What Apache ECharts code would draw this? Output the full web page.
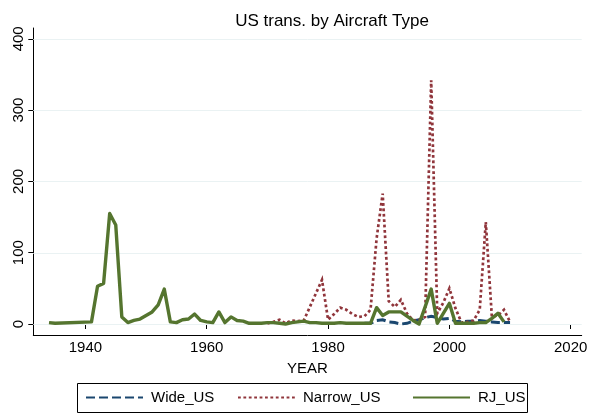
<!DOCTYPE html>
<html>
<head>
<meta charset="utf-8">
<script src="https://cdn.jsdelivr.net/npm/echarts@6/dist/echarts.min.js"></script>
<style>
  html, body { margin: 0; padding: 0; background: #fff; }
  #chart { width: 594px; height: 415px; }
</style>
</head>
<body>
<div id="chart"></div>
<script>
// Yearly transaction counts by aircraft type (US)
const wideYears = [1986, 1987, 1988, 1989, 1990, 1991, 1992, 1993, 1994, 1995, 1996, 1997, 1998,
  1999, 2000, 2001, 2002, 2003, 2004, 2005, 2006, 2007, 2008, 2009, 2010];
const wideValues = [1, 1, 5, 6, 3, 2, 0, 1, 4, 6, 9, 11, 9,
  7, 8, 4, 3, 4, 4, 5, 4, 3, 2, 2, 2];

const narrowYears = [1970, 1971, 1972, 1973, 1974, 1975, 1976, 1977, 1978, 1979, 1980, 1981, 1982,
  1983, 1984, 1985, 1986, 1987, 1988, 1989, 1990, 1991, 1992, 1993, 1994, 1995, 1996, 1997, 1998,
  1999, 2000, 2001, 2002, 2003, 2004, 2005, 2006, 2007, 2008, 2009, 2010];
const narrowValues = [1, 3, 6, 1, 5, 4, 5, 24, 43, 62, 6, 14, 23,
  20, 14, 10, 11, 20, 120, 183, 32, 24, 34, 15, 5, 6, 10, 342, 15,
  30, 50, 22, 2, 3, 5, 20, 143, 10, 12, 20, 3];

const rjYears = [1934, 1935, 1941, 1942, 1943, 1944, 1945, 1946, 1947, 1948, 1949, 1950, 1951,
  1952, 1953, 1954, 1955, 1956, 1957, 1958, 1959, 1960, 1961, 1962, 1963, 1964, 1965, 1966, 1967,
  1968, 1969, 1970, 1971, 1972, 1973, 1974, 1975, 1976, 1977, 1978, 1979, 1980, 1981, 1982, 1983,
  1984, 1985, 1986, 1987, 1988, 1989, 1990, 1991, 1992, 1993, 1994, 1995, 1996, 1997, 1998, 1999,
  2000, 2001, 2002, 2003, 2004, 2005, 2006, 2007, 2008, 2009];
const rjValues = [2, 1, 3, 53, 57, 155, 139, 10, 2, 5, 7, 12, 17,
  27, 49, 3, 2, 6, 7, 14, 5, 3, 2, 17, 2, 10, 5, 4, 1,
  1, 1, 2, 2, 1, 0, 2, 3, 4, 2, 2, 1, 1, 1, 2, 1,
  1, 1, 1, 1, 23, 12, 17, 17, 17, 11, 5, 0, 24, 49, 1, 15,
  29, 1, 1, 1, 1, 2, 2, 8, 15, 3];

const xTicks = [1940, 1960, 1980, 2000, 2020];
const yTicks = [0, 100, 200, 300, 400];

const seriesNames = ['Wide_US', 'Narrow_US', 'RJ_US'];
const seriesColors = ['#1a476f', '#90353b', '#55752f'];

function pairs(xs, ys) { return xs.map((x, i) => [x, ys[i]]); }

const FONT = 'Liberation Sans, Arial, Helvetica, sans-serif';
const chart = echarts.init(document.getElementById('chart'), null, { renderer: 'canvas' });

const legendBase = {
  orient: 'horizontal', top: 390, padding: 0, itemWidth: 57, itemHeight: 14,
  textStyle: { fontFamily: FONT, fontSize: 15, color: '#000', padding: [0, 0, 0, 3] },
  itemStyle: { opacity: 0 }
};

chart.setOption({
  backgroundColor: '#fff',
  animation: false,
  color: seriesColors,
  title: {
    text: 'US trans. by Aircraft Type',
    left: 327, top: 8, textAlign: 'center',
    textStyle: { fontFamily: FONT, fontSize: 17, fontWeight: 'normal', color: '#000' }
  },
  legend: [
    Object.assign({ left: 85, data: [seriesNames[0]] }, legendBase),
    Object.assign({ left: 237, data: [seriesNames[1]] }, legendBase),
    Object.assign({ left: 412, data: [seriesNames[2]] }, legendBase)
  ],
  grid: [
    // plotting area with its axis lines
    { left: 33.3, right: 12.3, top: 28, bottom: 80 },
    // tick/label frame spanning 1940-2020 and 0-400
    { left: 85.4, right: 23.3, top: 38.8, bottom: 91 }
  ],
  xAxis: [
    {
      gridIndex: 0, type: 'value', min: 1931.41, max: 2021.81,
      axisLine: { show: true, onZero: false, lineStyle: { color: '#000', width: 1 } },
      axisTick: { show: false }, axisLabel: { show: false }, splitLine: { show: false },
      name: 'YEAR', nameLocation: 'middle', nameGap: 26,
      nameTextStyle: { fontFamily: FONT, fontSize: 15, color: '#000' }
    },
    {
      gridIndex: 1, type: 'value', min: xTicks[0], max: xTicks[xTicks.length - 1], interval: 20,
      position: 'bottom', offset: 11,
      axisLine: { show: false },
      axisTick: { show: true, length: 5, lineStyle: { color: '#000' } },
      axisLabel: {
        show: true, margin: 5, fontFamily: FONT, fontSize: 15, color: '#000',
        formatter: v => String(v)
      },
      splitLine: { show: false }
    }
  ],
  yAxis: [
    {
      gridIndex: 0, type: 'value', min: -15.4, max: 415.4,
      axisLine: { show: true, onZero: false, lineStyle: { color: '#000', width: 1 } },
      axisTick: { show: false }, axisLabel: { show: false }, splitLine: { show: false }
    },
    {
      gridIndex: 1, type: 'value', min: yTicks[0], max: yTicks[yTicks.length - 1], interval: 100,
      position: 'left', offset: 52.1,
      axisLine: { show: false },
      axisTick: { show: true, length: 5, lineStyle: { color: '#000' } },
      axisLabel: {
        show: true, rotate: 90, margin: 7, fontFamily: FONT, fontSize: 15, color: '#000',
        formatter: v => String(v)
      },
      splitLine: { show: false }
    }
  ],
  series: [
    {
      name: seriesNames[0], type: 'line', xAxisIndex: 0, yAxisIndex: 0,
      data: pairs(wideYears, wideValues), symbol: 'none', z: 3,
      lineStyle: { color: seriesColors[0], width: 3, type: [9, 4], cap: 'butt', join: 'miter' }
    },
    {
      name: seriesNames[1], type: 'line', xAxisIndex: 0, yAxisIndex: 0,
      data: pairs(narrowYears, narrowValues), symbol: 'none', z: 4,
      lineStyle: { color: seriesColors[1], width: 2.7, type: [2.8, 2.6], cap: 'butt', join: 'miter' }
    },
    {
      name: seriesNames[2], type: 'line', xAxisIndex: 0, yAxisIndex: 0,
      data: pairs(rjYears, rjValues), symbol: 'none', z: 5,
      lineStyle: { color: seriesColors[2], width: 3.4, join: 'round' },
      markLine: {
        silent: true, symbol: 'none', z: 1, label: { show: false },
        lineStyle: { color: '#eaf2f3', width: 1, type: 'solid' },
        data: yTicks.map(v => ({ yAxis: v }))
      }
    }
  ],
  graphic: [
    {
      type: 'rect', silent: true, z: 0,
      shape: { x: 77.5, y: 383.5, width: 450, height: 29 },
      style: { fill: 'none', stroke: '#000', lineWidth: 1 }
    }
  ]
});
</script>
</body>
</html>
